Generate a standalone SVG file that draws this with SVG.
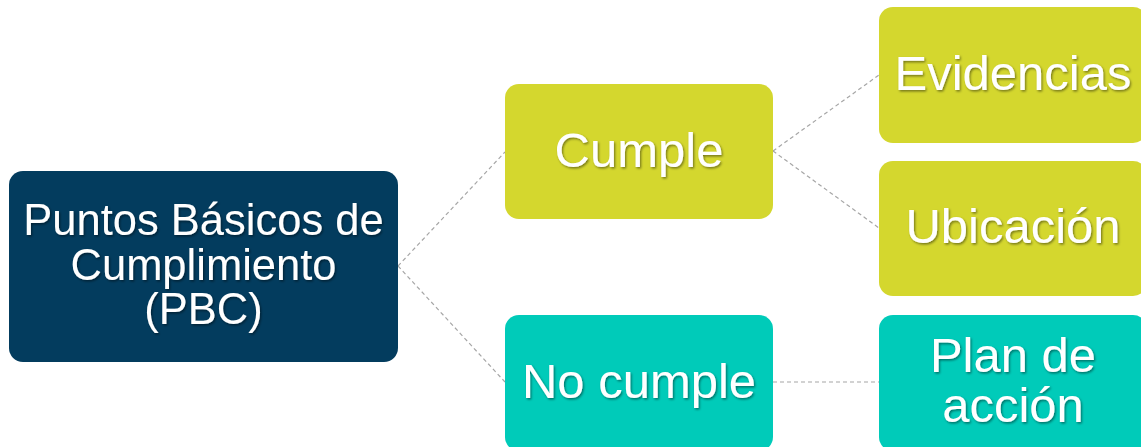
<svg xmlns="http://www.w3.org/2000/svg" width="1141" height="447" viewBox="0 0 1141 447">
<defs>
<style>
.lbl{font-family:"Liberation Sans",Arial,sans-serif;fill:#ffffff;text-anchor:middle;filter:url(#ts)}
.conn{stroke:#a6a6a6;stroke-width:1.2;stroke-dasharray:4 3;fill:none}
.navy{fill:#033c5e}
.lime{fill:#d4d72e}
.teal{fill:#00cbb9}
</style>
<filter id="ts" x="-10%" y="-20%" width="120%" height="140%">
<feDropShadow dx="1.2" dy="1.5" stdDeviation="0.8" flood-color="#000000" flood-opacity="0.45"/>
</filter>
</defs>
<rect width="1141" height="447" fill="#ffffff"/>
<g id="connectors">
<line class="conn" x1="398" y1="266" x2="505" y2="152"/>
<line class="conn" x1="398" y1="266" x2="505" y2="382"/>
<line class="conn" x1="773" y1="151" x2="879" y2="75"/>
<line class="conn" x1="773" y1="151" x2="879" y2="228"/>
<line class="conn" x1="773" y1="382" x2="879" y2="382"/>
</g>
<g id="pbc">
<rect class="navy" x="9" y="171" width="389" height="191" rx="14"/>
<text class="lbl" font-size="43.5" x="203.5"><tspan x="203.5" y="235">Puntos Básicos de</tspan><tspan x="203.5" y="279.5">Cumplimiento</tspan><tspan x="203.5" y="324">(PBC)</tspan></text>
</g>
<g id="cumple">
<rect class="lime" x="505" y="84" width="268" height="135" rx="14"/>
<text class="lbl" font-size="49" x="639" y="167">Cumple</text>
</g>
<g id="nocumple">
<rect class="teal" x="505" y="315" width="268" height="136" rx="14"/>
<text class="lbl" font-size="49" x="639" y="398">No cumple</text>
</g>
<g id="evidencias">
<rect class="lime" x="879" y="7" width="268" height="136" rx="14"/>
<text class="lbl" font-size="49" x="1013" y="90">Evidencias</text>
</g>
<g id="ubicacion">
<rect class="lime" x="879" y="161" width="268" height="135" rx="14"/>
<text class="lbl" font-size="49" x="1013" y="243">Ubicación</text>
</g>
<g id="plan">
<rect class="teal" x="879" y="315" width="268" height="136" rx="14"/>
<text class="lbl" font-size="49" x="1013"><tspan x="1013" y="372">Plan de</tspan><tspan x="1013" y="422">acción</tspan></text>
</g>
</svg>
